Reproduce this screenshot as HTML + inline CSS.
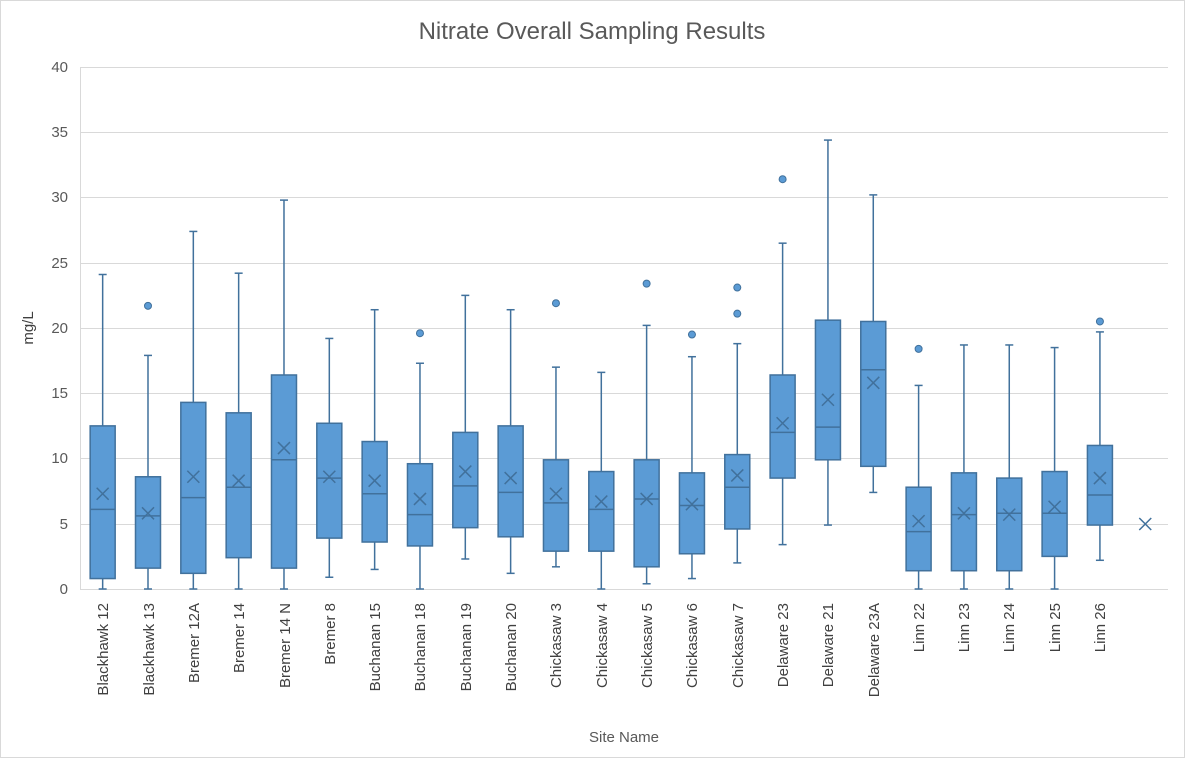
<!DOCTYPE html>
<html><head><meta charset="utf-8"><style>
html,body{margin:0;padding:0;background:#fff;}
svg{display:block;font-family:"Liberation Sans",Arial,sans-serif;}
</style></head><body>
<svg id="c" width="1185" height="758" viewBox="0 0 1185 758" xmlns="http://www.w3.org/2000/svg">
<rect x="0.5" y="0.5" width="1184" height="757" fill="#fff" stroke="#d9d9d9"/>
<text x="592" y="39" text-anchor="middle" font-size="24" fill="#595959">Nitrate Overall Sampling Results</text>
<g stroke="#d9d9d9" stroke-width="1">
<line x1="80" y1="67.5" x2="1168" y2="67.5"/>
<line x1="80" y1="132.5" x2="1168" y2="132.5"/>
<line x1="80" y1="197.5" x2="1168" y2="197.5"/>
<line x1="80" y1="263.5" x2="1168" y2="263.5"/>
<line x1="80" y1="328.5" x2="1168" y2="328.5"/>
<line x1="80" y1="393.5" x2="1168" y2="393.5"/>
<line x1="80" y1="458.5" x2="1168" y2="458.5"/>
<line x1="80" y1="524.5" x2="1168" y2="524.5"/>
<line x1="80" y1="589.5" x2="1168" y2="589.5"/>
<line x1="80.5" y1="67" x2="80.5" y2="589"/>
</g>
<g font-size="15" fill="#595959" text-anchor="end">
<text x="68" y="72">40</text><text x="68" y="137">35</text><text x="68" y="202">30</text>
<text x="68" y="268">25</text><text x="68" y="333">20</text><text x="68" y="398">15</text>
<text x="68" y="463">10</text><text x="68" y="529">5</text><text x="68" y="594">0</text>
</g>
<text transform="translate(33,328) rotate(-90)" text-anchor="middle" font-size="15" fill="#404040">mg/L</text>
<text x="624" y="742" text-anchor="middle" font-size="15" fill="#595959">Site Name</text>
<g id="boxes"></g>
<g font-size="15" fill="#404040" text-anchor="end">
<text transform="translate(108,603) rotate(-90)">Blackhawk 12</text>
<text transform="translate(154,603) rotate(-90)">Blackhawk 13</text>
<text transform="translate(199,603) rotate(-90)">Bremer 12A</text>
<text transform="translate(244,603) rotate(-90)">Bremer 14</text>
<text transform="translate(290,603) rotate(-90)">Bremer 14 N</text>
<text transform="translate(335,603) rotate(-90)">Bremer 8</text>
<text transform="translate(380,603) rotate(-90)">Buchanan 15</text>
<text transform="translate(425,603) rotate(-90)">Buchanan 18</text>
<text transform="translate(471,603) rotate(-90)">Buchanan 19</text>
<text transform="translate(516,603) rotate(-90)">Buchanan 20</text>
<text transform="translate(561,603) rotate(-90)">Chickasaw 3</text>
<text transform="translate(607,603) rotate(-90)">Chickasaw 4</text>
<text transform="translate(652,603) rotate(-90)">Chickasaw 5</text>
<text transform="translate(697,603) rotate(-90)">Chickasaw 6</text>
<text transform="translate(743,603) rotate(-90)">Chickasaw 7</text>
<text transform="translate(788,603) rotate(-90)">Delaware 23</text>
<text transform="translate(833,603) rotate(-90)">Delaware 21</text>
<text transform="translate(879,603) rotate(-90)">Delaware 23A</text>
<text transform="translate(924,603) rotate(-90)">Linn 22</text>
<text transform="translate(969,603) rotate(-90)">Linn 23</text>
<text transform="translate(1014,603) rotate(-90)">Linn 24</text>
<text transform="translate(1060,603) rotate(-90)">Linn 25</text>
<text transform="translate(1105,603) rotate(-90)">Linn 26</text>
</g>
</svg>
<script>
var d=[
[24.1,12.5,6.1,0.8,0,7.3,[]],
[17.9,8.6,5.6,1.6,0,5.8,[21.7]],
[27.4,14.3,7.0,1.2,0,8.6,[]],
[24.2,13.5,7.8,2.4,0,8.3,[]],
[29.8,16.4,9.9,1.6,0,10.8,[]],
[19.2,12.7,8.5,3.9,0.9,8.6,[]],
[21.4,11.3,7.3,3.6,1.5,8.3,[]],
[17.3,9.6,5.7,3.3,0,6.9,[19.6]],
[22.5,12.0,7.9,4.7,2.3,9.0,[]],
[21.4,12.5,7.4,4.0,1.2,8.5,[]],
[17.0,9.9,6.6,2.9,1.7,7.3,[21.9]],
[16.6,9.0,6.1,2.9,0,6.7,[]],
[20.2,9.9,6.9,1.7,0.4,6.9,[23.4]],
[17.8,8.9,6.4,2.7,0.8,6.5,[19.5]],
[18.8,10.3,7.8,4.6,2.0,8.7,[23.1,21.1]],
[26.5,16.4,12.0,8.5,3.4,12.7,[31.4]],
[34.4,20.6,12.4,9.9,4.9,14.5,[]],
[30.2,20.5,16.8,9.4,7.4,15.8,[]],
[15.6,7.8,4.4,1.4,0,5.2,[18.4]],
[18.7,8.9,5.7,1.4,0,5.8,[]],
[18.7,8.5,5.8,1.4,0,5.7,[]],
[18.5,9.0,5.8,2.5,0,6.3,[]],
[19.7,11.0,7.2,4.9,2.2,8.5,[20.5]]
];
function Y(v){return 589-v*13.05;}
var s='',S='#41719c',F='#5b9bd5';
function X(cx,cy){return '<path d="M'+(cx-6)+' '+(cy-6)+'L'+(cx+6)+' '+(cy+6)+'M'+(cx+6)+' '+(cy-6)+'L'+(cx-6)+' '+(cy+6)+'" stroke="'+S+'" stroke-width="1.5" fill="none"/>';}
d.forEach(function(b,i){
 var cx=80+45.33*(i+0.5),w=12.5;
 var t=Y(b[0]),q3=Y(b[1]),m=Y(b[2]),q1=Y(b[3]),bt=Y(b[4]);
 s+='<line x1="'+cx+'" y1="'+t+'" x2="'+cx+'" y2="'+bt+'" stroke="'+S+'" stroke-width="1.5"/>';
 s+='<line x1="'+(cx-4)+'" y1="'+t+'" x2="'+(cx+4)+'" y2="'+t+'" stroke="'+S+'" stroke-width="1.5"/>';
 s+='<line x1="'+(cx-4)+'" y1="'+bt+'" x2="'+(cx+4)+'" y2="'+bt+'" stroke="'+S+'" stroke-width="1.5"/>';
 s+='<rect x="'+(cx-w)+'" y="'+q3+'" width="'+(2*w)+'" height="'+(q1-q3)+'" fill="'+F+'" stroke="'+S+'" stroke-width="1.5"/>';
 s+='<line x1="'+(cx-w)+'" y1="'+m+'" x2="'+(cx+w)+'" y2="'+m+'" stroke="'+S+'" stroke-width="1.5"/>';
 s+=X(cx,Y(b[5]));
 b[6].forEach(function(o){s+='<circle cx="'+cx+'" cy="'+Y(o)+'" r="3.5" fill="'+F+'" stroke="'+S+'" stroke-width="1"/>';});
});
s+=X(80+45.33*23.5,524);
document.getElementById('boxes').innerHTML=s;
</script>
</body></html>
